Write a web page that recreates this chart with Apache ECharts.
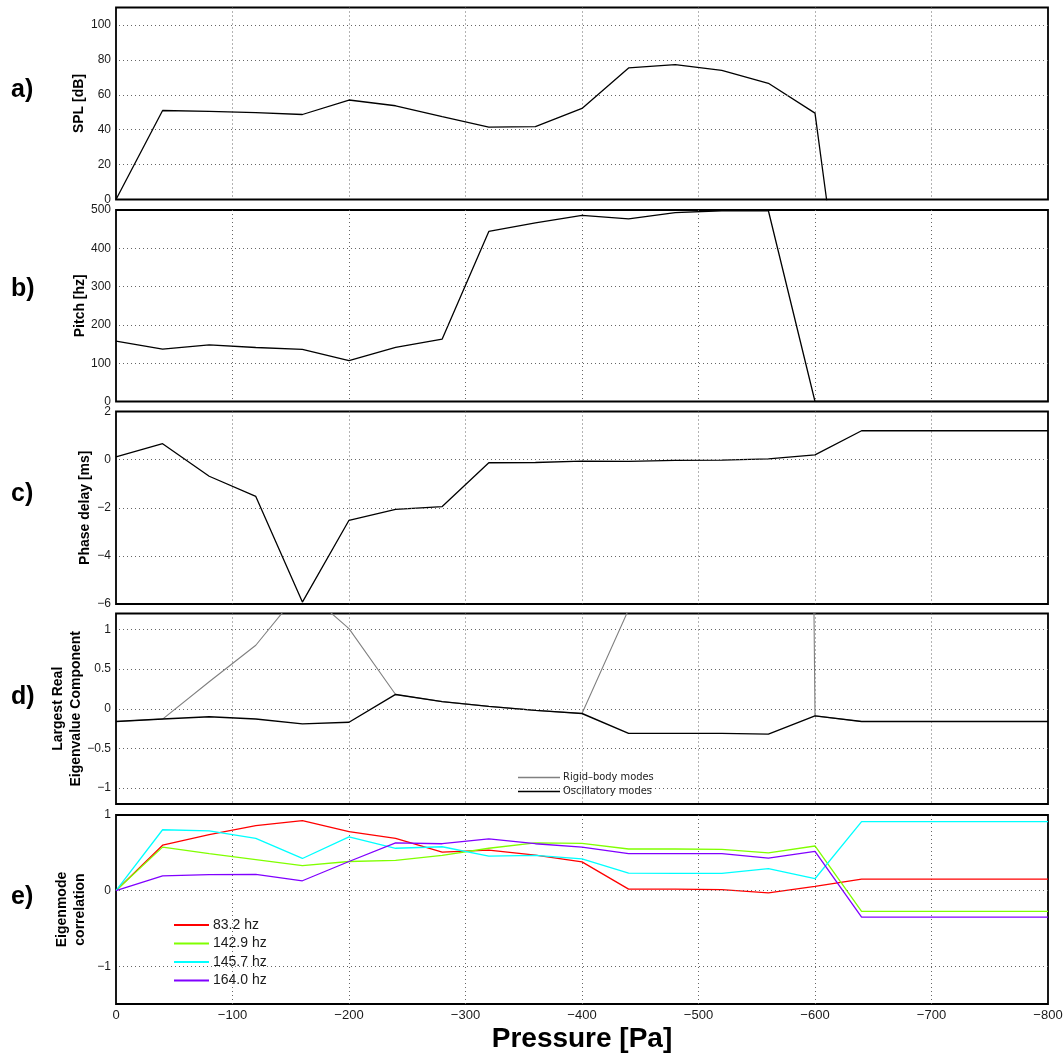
<!DOCTYPE html>
<html>
<head>
<meta charset="utf-8">
<script src="https://cdn.jsdelivr.net/npm/echarts@6/dist/echarts.min.js"></script>
<style>
  html, body { margin: 0; padding: 0; background: #fff; }
  #chart { width: 1063px; height: 1055px; }
</style>
</head>
<body>
<div id="chart"></div>
<script>
// Pressure steps (Pa), shared by every panel
const pressure = [0, -40, -80, -120, -160, -200, -240, -280, -320, -360, -400,
                  -440, -480, -520, -560, -600, -640, -680, -720, -760, -800];
const pressureTicks = [0, -100, -200, -300, -400, -500, -600, -700, -800];

// a) sound pressure level
const spl = [0, 51, 50.5, 49.8, 48.7, 57, 53.7, 47.5, 41.5, 41.8, 52.2,
             75.4, 77.3, 74, 66.6, 49.5, -150, null, null, null, null];
const splTicks = [0, 20, 40, 60, 80, 100];

// b) pitch
const pitch = [157.5, 137, 148, 141, 136, 107, 141.5, 163, 444, 466.5, 486,
               477, 493, 498, 498, 0, 0, 0, 0, 0, 0];
const pitchTicks = [0, 100, 200, 300, 400, 500];

// c) phase delay
const phaseDelay = [0.11, 0.66, -0.69, -1.53, -5.92, -2.52, -2.07, -1.95, -0.13, -0.12, -0.06,
                    -0.07, -0.03, -0.02, 0.03, 0.2, 1.2, 1.2, 1.2, 1.2, 1.2];
const phaseTicks = [-6, -4, -2, 0, 2];

// d) largest real eigenvalue component
const rigidBody = [-0.16, -0.13, 0.34, 0.80, 1.52, 1.01, 0.18, 0.09, 0.03, -0.02, -0.06,
                   1.25, 2.6, 5.1, 60, -0.09, -0.16, -0.16, -0.16, -0.16, -0.16];
const oscillatory = [-0.16, -0.13, -0.10, -0.13, -0.19, -0.17, 0.18, 0.09, 0.03, -0.02, -0.06,
                     -0.31, -0.31, -0.31, -0.32, -0.09, -0.16, -0.16, -0.16, -0.16, -0.16];
const eigTicks = [-1, -0.5, 0, 0.5, 1];

// e) eigenmode correlation
const corr83 = [0, 0.60, 0.74, 0.86, 0.925, 0.78, 0.69, 0.51, 0.535, 0.47, 0.38,
                0.02, 0.02, 0.013, -0.03, 0.057, 0.153, 0.153, 0.153, 0.153, 0.153];
const corr142 = [0, 0.575, 0.49, 0.41, 0.33, 0.385, 0.40, 0.465, 0.56, 0.63, 0.625,
                 0.55, 0.55, 0.545, 0.50, 0.59, -0.275, -0.275, -0.275, -0.275, -0.275];
const corr145 = [0, 0.805, 0.79, 0.69, 0.425, 0.71, 0.56, 0.58, 0.455, 0.465, 0.42,
                 0.23, 0.227, 0.227, 0.29, 0.157, 0.913, 0.913, 0.913, 0.913, 0.913];
const corr164 = [0, 0.195, 0.21, 0.215, 0.13, 0.385, 0.63, 0.62, 0.685, 0.62, 0.576,
                 0.49, 0.49, 0.49, 0.43, 0.52, -0.35, -0.35, -0.35, -0.35, -0.35];
const corrTicks = [-1, 0, 1];

const FONT = "'Liberation Sans', Arial, Helvetica, sans-serif";
const NARROW = "'Liberation Sans Narrow', 'DejaVu Sans Condensed', 'Liberation Sans', sans-serif";
const MINUS = '\u2212';

function fmt(v) {
  const r = Math.round(v * 1000) / 1000;
  if (r === 0) return '0';
  return (r < 0 ? MINUS : '') + String(Math.abs(r));
}
function pairs(values) {
  return pressure.map((p, i) => [p, values[i]]);
}

// panel layout
const panels = [
  { top: 7.5,   height: 192,   min: 0,    max: 110, step: 10,  ticks: splTicks,   name: 'SPL [dB]',                            nameGap: 28 },
  { top: 210,   height: 191.5, min: 0,    max: 500, step: 100, ticks: pitchTicks, name: 'Pitch [hz]',                          nameGap: 27 },
  { top: 411.5, height: 192.5, min: -6,   max: 2,   step: 2,   ticks: phaseTicks, name: 'Phase delay [ms]',                    nameGap: 21.5 },
  { top: 613.5, height: 190.5, min: -1.2, max: 1.2, step: 0.1, ticks: eigTicks,   name: 'Largest Real\nEigenvalue Component', nameGap: 31 },
  { top: 815,   height: 189,   min: -1.5, max: 1,   step: 0.5, ticks: corrTicks,  name: 'Eigenmode\ncorrelation',             nameGap: 26.5 }
];

const grids = panels.map(p => ({
  left: 116, right: 15, top: p.top, height: p.height,
  outerBoundsMode: 'none', containLabel: false,
  show: true, borderColor: '#000', borderWidth: 1.8, backgroundColor: 'transparent'
}));

const xAxes = panels.map((p, i) => ({
  type: 'value', gridIndex: i, min: -800, max: 0, interval: 100, inverse: true,
  axisLine: { show: false }, axisTick: { show: false },
  axisLabel: {
    show: i === panels.length - 1, margin: 5, fontSize: 13, color: '#1a1a1a', fontFamily: FONT,
    formatter: v => pressureTicks.some(t => Math.abs(t - v) < 1e-6) ? fmt(v) : ''
  },
  splitLine: { show: true, showMinLine: false, showMaxLine: false,
               lineStyle: { type: [1, 3], color: '#666', width: 1 } },
  name: i === panels.length - 1 ? 'Pressure [Pa]' : '',
  nameLocation: 'middle', nameGap: 21, nameMoveOverlap: false,
  nameTextStyle: { fontSize: 28, fontWeight: 'bold', color: '#000', fontFamily: FONT }
}));

const yAxes = panels.map((p, i) => ({
  type: 'value', gridIndex: i, min: p.min, max: p.max, interval: p.step,
  axisLine: { show: false }, axisTick: { show: false },
  splitLine: { show: false },
  axisLabel: {
    margin: 5, fontSize: 12, color: '#1a1a1a', fontFamily: FONT,
    formatter: v => {
      const t = p.ticks.find(t => Math.abs(t - v) < 1e-6);
      return t === undefined ? '' : fmt(t);
    }
  },
  name: p.name, nameLocation: 'middle', nameRotate: 90, nameGap: p.nameGap, nameMoveOverlap: false,
  nameTextStyle: { fontSize: 14, fontWeight: 'bold', color: '#000', fontFamily: FONT, lineHeight: 18 }
}));

// dotted horizontal gridlines at the labelled ticks
function gridLines(p) {
  return {
    silent: true, symbol: ['none', 'none'], animation: false,
    label: { show: false },
    lineStyle: { type: [1, 3], color: '#666', width: 1 },
    emphasis: { disabled: true },
    data: p.ticks.filter(t => t > p.min && t < p.max).map(t => ({ yAxis: t }))
  };
}

function line(name, values, panel, color, width, withGrid) {
  const s = {
    name, type: 'line', xAxisIndex: panel, yAxisIndex: panel,
    data: pairs(values), showSymbol: false, symbol: 'none', clip: true,
    color, itemStyle: { color },
    lineStyle: { color, width },
    emphasis: { disabled: true }, animation: false, connectNulls: false
  };
  if (withGrid) s.markLine = gridLines(panels[panel]);
  return s;
}

const series = [
  line('SPL', spl, 0, '#000', 1.3, true),
  line('Pitch', pitch, 1, '#000', 1.3, true),
  line('Phase delay', phaseDelay, 2, '#000', 1.3, true),
  line('Rigid–body modes', rigidBody, 3, '#808080', 1.1, true),
  line('Oscillatory modes', oscillatory, 3, '#000', 1.4, false),
  line('83.2 hz', corr83, 4, '#ff0000', 1.3, true),
  line('142.9 hz', corr142, 4, '#80ff00', 1.3, false),
  line('145.7 hz', corr145, 4, '#00ffff', 1.3, false),
  line('164.0 hz', corr164, 4, '#8000ff', 1.3, false)
];

const letters = ['a)', 'b)', 'c)', 'd)', 'e)'];
const letterY = [92, 291, 496, 699, 899];

const option = {
  backgroundColor: '#fff',
  textStyle: { fontFamily: FONT },
  animation: false,
  grid: grids,
  xAxis: xAxes,
  yAxis: yAxes,
  legend: [
    {
      data: ['Rigid–body modes', 'Oscillatory modes'],
      left: 513, top: 767, orient: 'vertical', selectedMode: false,
      icon: 'rect', itemWidth: 42, itemHeight: 1.5, itemGap: 3,
      textStyle: { fontSize: 11, color: '#222', fontFamily: NARROW, padding: [0, 0, 0, -2] }
    },
    {
      data: ['83.2 hz', '142.9 hz', '145.7 hz', '164.0 hz'],
      left: 169, top: 913, orient: 'vertical', selectedMode: false,
      icon: 'rect', itemWidth: 35, itemHeight: 2, itemGap: 4.5,
      textStyle: { fontSize: 14, color: '#1a1a1a', fontFamily: FONT, padding: [0, 0, 0, -1] }
    }
  ],
  graphic: letters.map((t, i) => ({
    type: 'text', left: 11, top: letterY[i] - 14, silent: true,
    style: { text: t, fontSize: 25, fontWeight: 'bold', fill: '#000', fontFamily: FONT }
  })),
  series
};

const chart = echarts.init(document.getElementById('chart'), null, { renderer: 'canvas' });
chart.setOption(option);
</script>
</body>
</html>
